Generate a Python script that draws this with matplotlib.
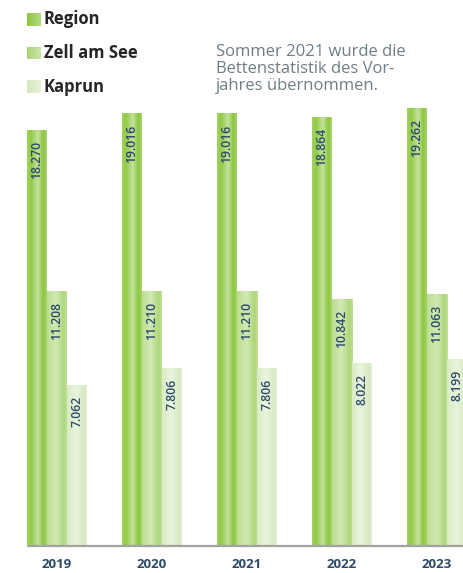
import matplotlib
matplotlib.use("Agg")
import matplotlib.pyplot as plt
import numpy as np
from matplotlib.colors import LinearSegmentedColormap, to_rgb

years = ["2019", "2020", "2021", "2022", "2023"]
series_names = ["Region", "Zell am See", "Kaprun"]
region = [18270, 19016, 19016, 18864, 19262]
zell = [11208, 11210, 11210, 10842, 11063]
kaprun = [7062, 7806, 7806, 8022, 8199]
note = "Sommer 2021 wurde die\nBettenstatistik des Vor-\njahres übernommen."

W, H = 464, 573
plt.rcParams['font.family'] = ['Open Sans', 'DejaVu Sans']
fig = plt.figure(figsize=(W / 100, H / 100), dpi=100)
ax = fig.add_axes([0, 0, 1, 1])
ax.axis('off')

# pixel mapping
base_px = 546
scale = 0.02272  # px per unit
group_px = 95.0
first_center_px = 57.0
ax.set_xlim(-first_center_px / group_px, (W - first_center_px) / group_px)
ax.set_ylim((base_px - H) / scale, base_px / scale)

bw = 20 / group_px

profiles = [
    [(0.0, "#a2d25e"), (0.2, "#92ca48"), (0.55, "#c4e19e"), (0.82, "#8cc63f"), (1.0, "#a8d46c")],
    [(0.0, "#bcdd90"), (0.45, "#d2e9b6"), (0.85, "#aed679"), (1.0, "#c2e09a")],
    [(0.0, "#d8ebc3"), (0.45, "#e9f4de"), (0.88, "#d6e9c0"), (1.0, "#e4f1d6")],
]
cmaps = [LinearSegmentedColormap.from_list(f"g{i}", p) for i, p in enumerate(profiles)]
grad = np.linspace(0, 1, 64).reshape(1, -1)

x = np.arange(len(years))
values = [region, zell, kaprun]
label_color = "#2c4a68"
for s, vals in enumerate(values):
    xs = x + (s - 1) * bw
    bars = ax.bar(xs, vals, width=bw, color="none", edgecolor="none", zorder=2)
    for b, v in zip(bars, vals):
        x0 = b.get_x()
        ax.imshow(grad, cmap=cmaps[s], extent=[x0, x0 + b.get_width(), 0, b.get_height()],
                  aspect='auto', interpolation='bilinear', zorder=2)
        lbl = f"{v:,}".replace(",", ".")
        ax.annotate(lbl, (b.get_x() + b.get_width() / 2, b.get_height()),
                    xytext=(0, -7.5), textcoords='offset points', rotation=90,
                    ha='center', va='top', fontsize=8.8, fontweight='semibold',
                    color=label_color, zorder=3)

ax.set_xlim(-first_center_px / group_px, (W - first_center_px) / group_px)
ax.set_ylim((base_px - H) / scale, base_px / scale)

# baseline
x_start = x[0] - 1.5 * bw
ax.plot([x_start, ax.get_xlim()[1]], [0, 0], color="#a3a3a3", lw=1.6, zorder=4,
        solid_capstyle='butt')

# year labels
for xi, yr in zip(x, years):
    ax.text(xi, (base_px - 565) / scale, yr, ha='center', va='center',
            fontsize=9.5, fontweight='bold', color=label_color)

# legend
leg_y = [19.5, 53, 86.5]
leg_colors = [("#8cc63f", "#b5db82"), ("#a9d472", "#cfe7b0"), ("#d3e8bb", "#e6f2d8")]
for name, yc, (c1, c2) in zip(series_names, leg_y, leg_colors):
    cm = LinearSegmentedColormap.from_list("l", [c1, c2])
    sax = fig.add_axes([27 / W, 1 - (yc + 6.5) / H, 13 / W, 13 / H])
    sax.imshow(grad, cmap=cm, aspect='auto', extent=[0, 1, 0, 1])
    sax.axis('off')
    fig.text(44 / W, 1 - yc / H, name, ha='left', va='center', fontsize=12,
             fontweight='bold', color="#262626")

fig.text(216 / W, 1 - 44 / H, note, ha='left', va='top', fontsize=12,
         color="#6e7d86", linespacing=1.08)

fig.savefig("out.png", dpi=100)
